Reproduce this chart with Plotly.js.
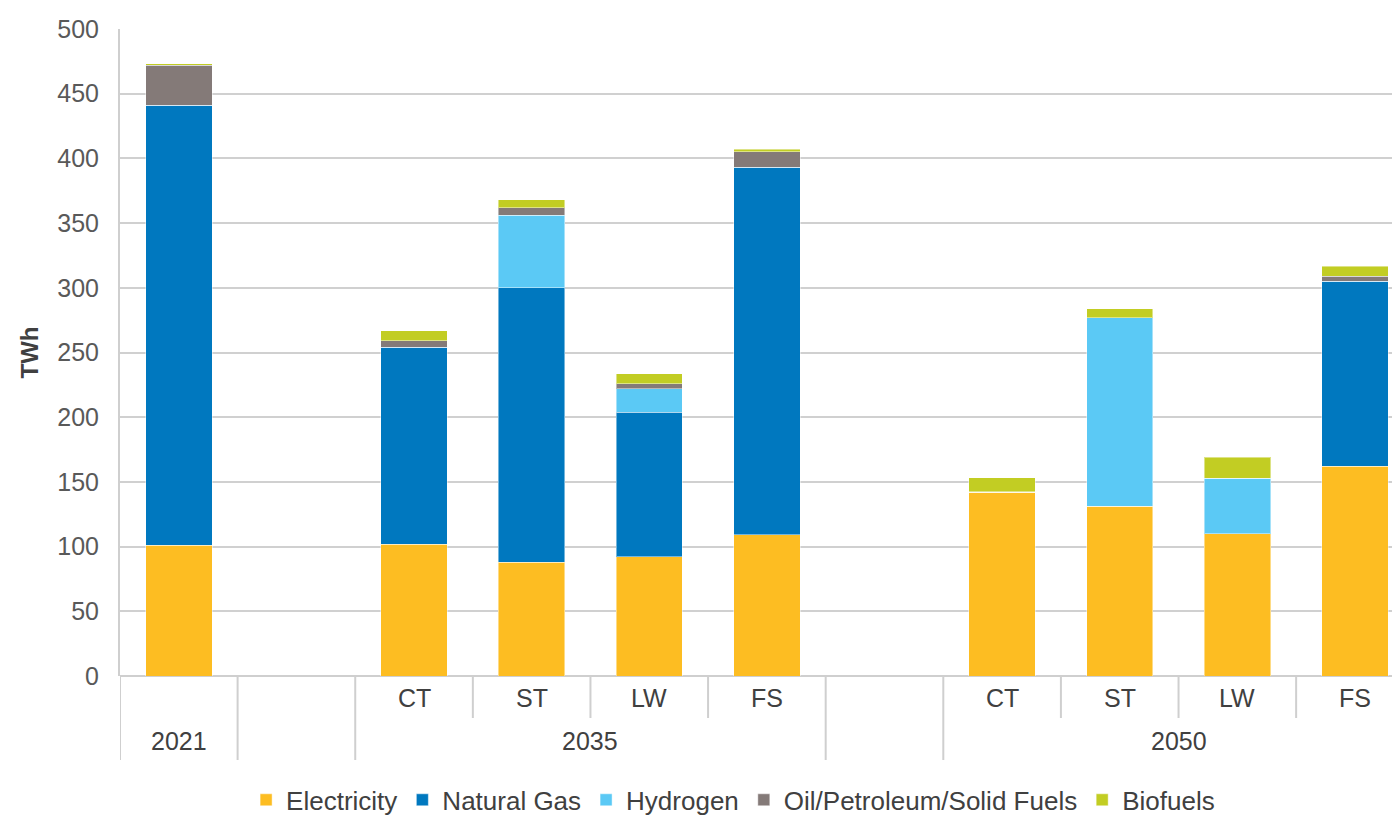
<!DOCTYPE html>
<html>
<head>
<meta charset="utf-8">
<script src="https://cdn.plot.ly/plotly-3.0.1.min.js"></script>
<style>
  html, body { margin: 0; padding: 0; background: #ffffff; }
  #chart { width: 1392px; height: 818px; }
</style>
</head>
<body>
<div id="chart"></div>
<script>
// ---- data ----
const scenarioLabels = ["2021", "", "CT", "ST", "LW", "FS", "", "CT", "ST", "LW", "FS"];
const yearLabels     = ["2021", "", "2035", "2035", "2035", "2035", "", "2050", "2050", "2050", "2050"];
const innerLabels    = ["", "", "CT", "ST", "LW", "FS", "", "CT", "ST", "LW", "FS"];

const electricity = [101, null, 102, 88, 92, 109, null, 142, 131, 110, 162];
const naturalGas  = [340, null, 152, 212, 112, 284, null, 0, 0, 0, 143];
const hydrogen    = [0, null, 0, 56, 18, 0, null, 0, 146, 43, 0];
const oilFuels    = [31, null, 5, 6, 4, 12, null, 0.4, 0, 0, 4];
const biofuels    = [1.3, null, 7.7, 6, 7.5, 2, null, 11, 7, 16, 7.5];

const seriesNames  = ["Electricity", "Natural Gas", "Hydrogen", "Oil/Petroleum/Solid Fuels", "Biofuels"];
const seriesValues = [electricity, naturalGas, hydrogen, oilFuels, biofuels];
const seriesColors = ["#FDBD22", "#0078BF", "#5BC9F5", "#847A78", "#C2CD23"];

// unique category keys for each slot
const slotKeys = scenarioLabels.map((l, i) => "s" + i + " " + yearLabels[i] + " " + l);

const traces = seriesNames.map((name, k) => ({
  type: "bar",
  name: name,
  x: slotKeys,
  y: seriesValues[k],
  marker: { color: seriesColors[k], line: { color: "rgba(255,255,255,0.45)", width: 1 } },
  hoverinfo: "name+y"
}));

// ---- axis decorations (labels & dividers) ----
const annotations = [];
const shapes = [];
const labelFont = { family: "Liberation Sans, Arial, sans-serif", size: 25, color: "#404040" };

innerLabels.forEach((lab, i) => {
  if (lab) {
    annotations.push({ xref: "x", yref: "paper", x: i, y: 0, yshift: -22, yanchor: "middle",
      text: lab, showarrow: false, font: labelFont });
  }
});

// year groups
const groups = [];
yearLabels.forEach((yr, i) => {
  const last = groups[groups.length - 1];
  if (last && last.label === yr && yr !== "") { last.end = i; }
  else { groups.push({ label: yr, start: i, end: i }); }
});
groups.forEach(g => {
  if (g.label) {
    annotations.push({ xref: "x", yref: "paper", x: (g.start + g.end) / 2, y: 0, yshift: -65, yanchor: "middle",
      text: g.label, showarrow: false, font: labelFont });
  }
});

const plotH = 647;
const fullDrop = -(760 - 676) / plotH;
const shortDrop = -(718 - 676) / plotH;
const lineStyle = { color: "#cfcfcf", width: 2 };
// full dividers at group boundaries, short ticks inside groups
groups.forEach(g => {
  shapes.push({ type: "line", xref: "x", yref: "paper", x0: g.start - 0.5, x1: g.start - 0.5, y0: 0, y1: fullDrop, line: lineStyle });
  for (let i = g.start + 1; i <= g.end; i++) {
    shapes.push({ type: "line", xref: "x", yref: "paper", x0: i - 0.5, x1: i - 0.5, y0: 0, y1: shortDrop, line: lineStyle });
  }
});

const layout = {
  width: 1392,
  height: 818,
  margin: { l: 120, r: 0, t: 29, b: 142, autoexpand: false },
  paper_bgcolor: "#ffffff",
  plot_bgcolor: "#ffffff",
  barmode: "stack",
  bargap: 0.435,
  font: { family: "Liberation Sans, Arial, sans-serif", color: "#404040" },
  showlegend: true,
  legend: {
    orientation: "h",
    x: 0.482, xanchor: "center",
    y: -0.1915, yanchor: "middle",
    font: { family: "Liberation Sans, Arial, sans-serif", size: 26, color: "#404040" },
    itemwidth: 30,
    traceorder: "normal",
    tracegroupgap: 0
  },
  xaxis: {
    type: "category",
    categoryorder: "array",
    categoryarray: slotKeys,
    range: [-0.5, 10.315],
    showticklabels: false,
    ticks: "",
    showgrid: false,
    zeroline: false,
    showline: false,
    fixedrange: true
  },
  yaxis: {
    range: [0, 500],
    dtick: 50,
    tick0: 0,
    ticks: "",
    ticklabelstandoff: 14,
    tickfont: { family: "Liberation Sans, Arial, sans-serif", size: 25, color: "#595959" },
    showgrid: true,
    gridcolor: "#d0d0d0",
    gridwidth: 2,
    zeroline: true,
    zerolinecolor: "#cfcfcf",
    zerolinewidth: 2,
    showline: true,
    linecolor: "#cfcfcf",
    linewidth: 2,
    title: { text: "<b>TWh</b>", standoff: 12,
      font: { family: "Liberation Sans, Arial, sans-serif", size: 24, color: "#404040" } },
    automargin: false,
    fixedrange: true
  },
  annotations: annotations,
  shapes: shapes
};

Plotly.newPlot("chart", traces, layout, { displayModeBar: false, staticPlot: true });
</script>
</body>
</html>
